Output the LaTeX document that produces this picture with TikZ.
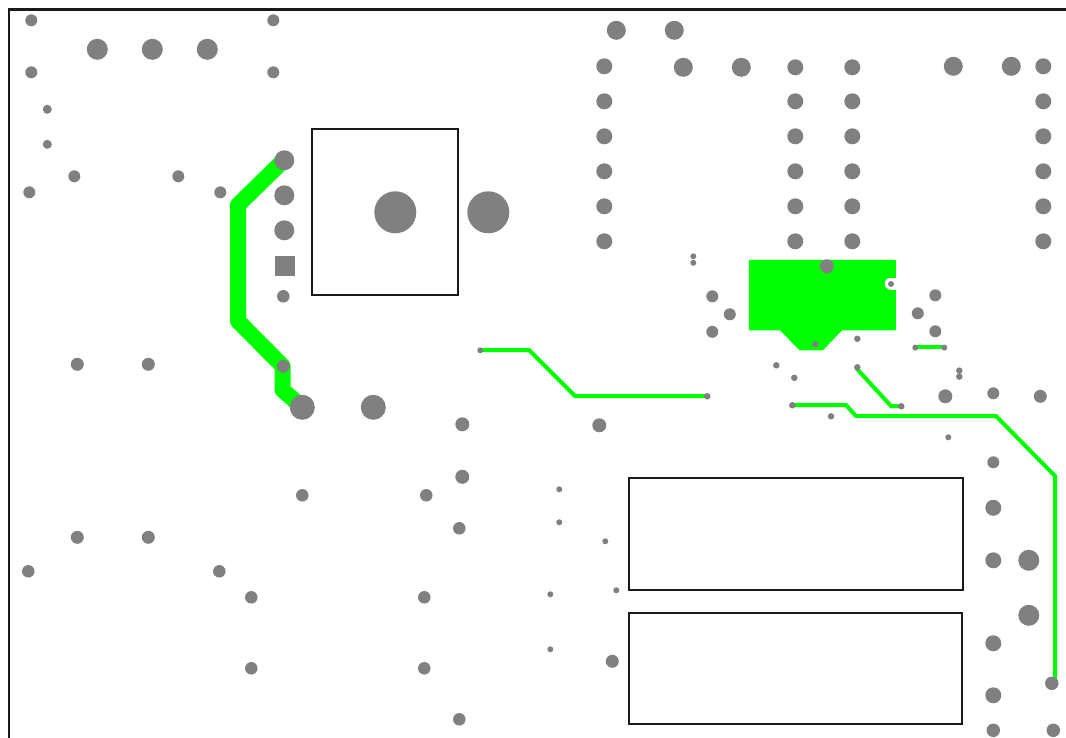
\documentclass[tikz,border=0pt]{standalone}
\definecolor{padgrey}{HTML}{808080}
\definecolor{copper}{HTML}{00FF00}
\definecolor{frameblack}{HTML}{1A1A1A}
\begin{document}
\begin{tikzpicture}[x=1pt,y=-1pt,
  thicktrace/.style={draw=copper,line width=16pt,line join=round},
  thintrace/.style={draw=copper,line width=4pt,line join=miter},
  outline/.style={draw=frameblack,line width=1.3pt},
  padfill/.style={fill=padgrey,draw=none}]
\useasboundingbox (0,0) rectangle (1066,738);
\fill[white] (0,0) rectangle (1066,738);
% board outline
\draw[outline,line width=2.4pt] (8.7,738) -- (8.7,9.7) -- (1066,9.7);
% component outlines
\draw[outline] (312,129) rectangle (458,295);
\draw[outline] (629,478) rectangle (963,590);
\draw[outline] (629,613) rectangle (962,724);
% copper pour
\fill[copper,draw=copper,line width=1.5pt,line join=round]
  (749.5,260.7) -- (895,260.7) -- (895,329.7) -- (841.5,329.7) -- (822.5,349.7)
  -- (800,349.7) -- (780.5,329.7) -- (749.5,329.7) -- cycle;
\fill[white] (890.7,277.7) rectangle (897,289.7);
\fill[white] (890.7,283.7) circle[radius=6];
% traces
\draw[thicktrace] (284,160) -- (238,205) -- (238,321) -- (282.6,366) -- (282.6,390) -- (302,407);
\draw[thintrace] (480,350) -- (529,350) -- (575,396) -- (707,396);
\draw[thintrace] (792,405) -- (846,405) -- (856,416) -- (996,416) -- (1055,476) -- (1055,683);
\draw[thintrace] (857,369) -- (891,406) -- (901,406);
\draw[thintrace] (915,347.3) -- (944,347.3);
\begin{scope}[shift={(0.3,0.3)}]
% round pads
\foreach \x/\y/\d in {
  31/20/12, 97/49/21, 152/49/21, 207/49/21, 273/20/12, 31/72/12, 273/72/12,
  47/109/9, 47/144/9, 74/176/12, 178/176/12, 220/192/12, 29/192/12,
  284/160/20, 284/195/20, 284/230/20, 283/296/12.5, 283/366/13, 302/407/25, 373/407/25,
  395/212/42, 488/212/42, 77/364/13, 148/364/13,
  462/424/14, 599/425/14, 462/476.5/14, 302/495/12.5, 426/495/12.5, 459/528/12.5,
  559/489/6, 559/522/6, 605/541/6, 77/537/13, 148/537/13, 28/571/12.5, 219/571/12.5,
  251/597/12.5, 424/597/12.5, 550/594/6, 616/590/6, 251/668/12.5, 424/668/12.5,
  550/649/6, 612/661/13, 459/719/12.5,
  616/30/19, 674/30/19, 604/66/16, 683/67/19, 741/67/19, 795/67/16, 852/67/16,
  953/66/19, 1011/66/19, 1043/66/16,
  693/256/6, 693/262.5/6, 712/296/12, 729.5/314/12, 712/331.5/12, 826.5/266/14,
  890.7/283.7/6, 815/344/6.5, 857/338.5/6.5, 776/365/6.5, 794/377.5/6.5, 857/367/6.5,
  792/405/6.5, 830.7/416/6.5, 901/406/6.5, 707/396/6.5, 480/350/6, 915/347.3/6, 944/347.3/6,
  935/295/12, 917.5/313/12, 935/331/12, 959/370.3/6.5, 959/376.3/6.5, 945/396/14, 948/437/6,
  993/393/12, 1040/396/13, 993/462/12, 993/507.5/16, 993/560/16, 1028.5/560/21, 1028.5/615/21,
  993/643/16, 993/695/16, 993/730/13.5, 1053/730/13.5, 1051.5/683/13.5}
  {\fill[padfill] (\x,\y) circle[radius=\d/2];}
% pad columns
\foreach \x in {604,795,852,1043}
  \foreach \y in {101,136,171,206,241}
    {\fill[padfill] (\x,\y) circle[radius=8];}
% square pad
\fill[padfill] (274.5,256) rectangle (294.5,275.5);
\end{scope}
\end{tikzpicture}
\end{document}
